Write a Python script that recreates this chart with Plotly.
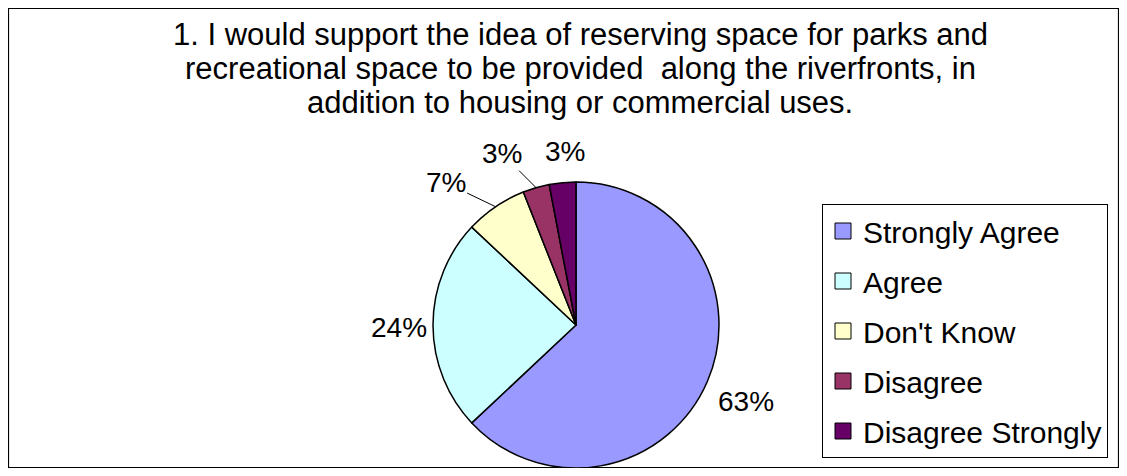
import math
import plotly.graph_objects as go

categories = ["Strongly Agree", "Agree", "Don't Know", "Disagree", "Disagree Strongly"]
values = [63, 24, 7, 3, 3]
colors = ["#9999FF", "#CCFFFF", "#FFFFCC", "#993366", "#660066"]
title_lines = [
    "1. I would support the idea of reserving space for parks and",
    "recreational space to be provided  along the riverfronts, in",
    "addition to housing or commercial uses.",
]

# the page has an 8px body margin: keep the figure inside the window
W, H = 1111, 460
OFF = 8
FONT = "Liberation Sans, Arial, sans-serif"


def px(x):
    return (x - OFF) / W


def py(y):
    return 1 - (y - OFF) / H


fig = go.Figure()

cx, cy, r = 576, 325, 143
fig.add_trace(go.Pie(
    labels=categories,
    values=values,
    sort=False,
    direction="clockwise",
    rotation=0,
    marker=dict(colors=colors, line=dict(color="black", width=1.5)),
    textinfo="none",
    showlegend=False,
    hoverinfo="label+percent",
    domain=dict(x=[px(cx - r), px(cx + r)], y=[max(0, py(cy + r)), py(cy - r)]),
))

for i, (c, col) in enumerate(zip(categories, colors)):
    fig.add_trace(go.Scatter(
        x=[None], y=[None], mode="markers", name=c, legendgroup=str(i),
        marker=dict(symbol="square", size=16, color=col, line=dict(color="black", width=1)),
        showlegend=True,
    ))

annotations = []
for k, line in enumerate(title_lines):
    annotations.append(dict(
        text=line, x=px(580), y=py(34 + 34 * k), xref="paper", yref="paper",
        xanchor="center", yanchor="middle", showarrow=False,
        font=dict(family=FONT, size=31, color="black"),
    ))

# percentage labels, placed from each slice's mid angle (clockwise from 12 o'clock)
label_offsets = [(39, 20), (-34, 2), (-50, -24), (-34, -34), (2, -31)]  # pixels from slice edge
leader = [False, False, True, True, False]
total = sum(values)
cum = 0
for v, (dx, dy), ld in zip(values, label_offsets, leader):
    mid = (cum + v / 2) / total * 2 * math.pi
    cum += v
    ex = cx + r * math.sin(mid)
    ey = cy - r * math.cos(mid)
    txt = f"{round(100 * v / total)}%"
    if ld:
        annotations.append(dict(
            text=txt, x=px(ex), y=py(ey), xref="paper", yref="paper",
            ax=dx, ay=dy, showarrow=True, arrowhead=0, arrowwidth=1,
            arrowcolor="black", standoff=0, startstandoff=0,
            font=dict(family=FONT, size=28, color="black"),
        ))
    else:
        annotations.append(dict(
            text=txt, x=px(ex + dx), y=py(ey + dy), xref="paper", yref="paper",
            xanchor="center", yanchor="middle", showarrow=False,
            font=dict(family=FONT, size=28, color="black"),
        ))

fig.update_layout(
    width=W, height=H,
    margin=dict(l=0, r=0, t=0, b=0),
    paper_bgcolor="white", plot_bgcolor="white",
    xaxis=dict(visible=False), yaxis=dict(visible=False),
    annotations=annotations,
    legend=dict(
        x=px(822), y=py(204), xanchor="left", yanchor="top",
        bordercolor="black", borderwidth=1, bgcolor="white",
        font=dict(family=FONT, size=30, color="black"),
        tracegroupgap=8,
    ),
    shapes=[dict(type="rect", xref="paper", yref="paper",
                 x0=0.5 / W, x1=1 - 0.5 / W, y0=0.5 / H, y1=1 - 0.5 / H,
                 line=dict(color="black", width=1.2), layer="below")],
)

fig.write_html("out.html")
